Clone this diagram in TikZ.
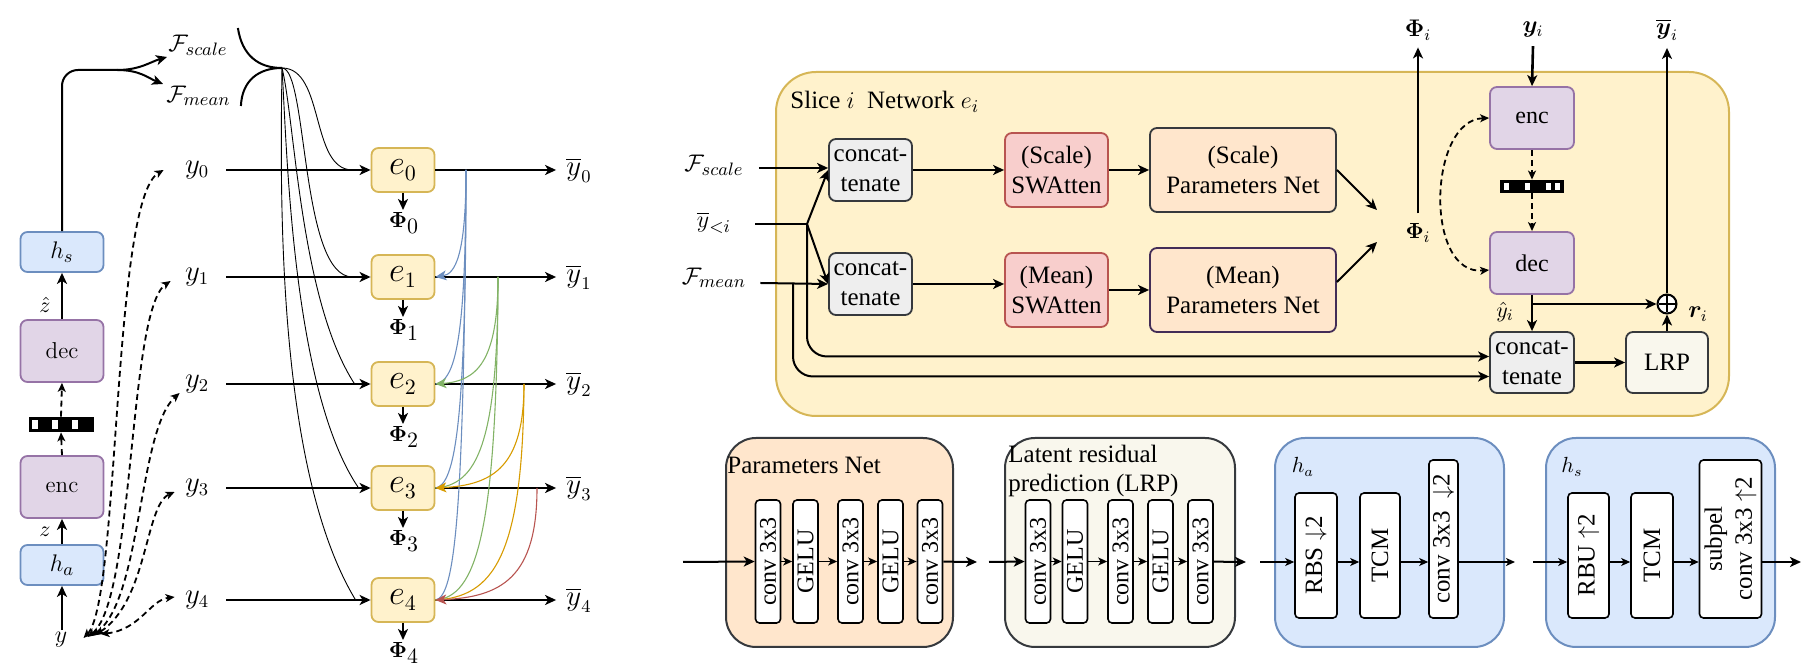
\documentclass[tikz,border=0pt]{standalone}
\usepackage{fontspec}
\usepackage{amsmath,bm,graphicx}
\usetikzlibrary{arrows.meta,calc}
\newfontfamily\tms{Liberation Serif}
\definecolor{eFill}{HTML}{FFF2CC}
\definecolor{eDraw}{HTML}{D6B656}
\definecolor{pFill}{HTML}{E1D5E7}
\definecolor{pDraw}{HTML}{9673A6}
\definecolor{bFill}{HTML}{DAE8FC}
\definecolor{bDraw}{HTML}{6C8EBF}
\definecolor{rFill}{HTML}{F8CECC}
\definecolor{rDraw}{HTML}{B85450}
\definecolor{oFill}{HTML}{FFE6CC}
\definecolor{dkDraw}{HTML}{36393D}
\definecolor{mDraw}{HTML}{432D57}
\definecolor{gFill}{HTML}{EEEEEE}
\definecolor{lrpFill}{HTML}{F9F7ED}
\definecolor{cBlue}{HTML}{6C8EBF}
\definecolor{cGreen}{HTML}{82B366}
\definecolor{cOrange}{HTML}{D79B00}
\definecolor{cRed}{HTML}{B85450}
\begin{document}
\begin{tikzpicture}[x=0.5pt,y=-0.5pt,
  arr/.style={-{Stealth[length=5.5pt,width=5pt,inset=1.5pt]}, line width=1pt},
  arrs/.style={-{Stealth[length=4.5pt,width=4pt,inset=1.2pt]}, line width=0.75pt},
  dasharr/.style={-{Stealth[length=4.5pt,width=4pt,inset=1.2pt]}, line width=0.9pt, dash pattern=on 3pt off 2pt},
  dboth/.style={{Stealth[length=4.5pt,width=4pt,inset=1.2pt]}-{Stealth[length=4.5pt,width=4pt,inset=1.2pt]}, line width=0.9pt, dash pattern=on 3pt off 2pt},
  bx/.style={rounded corners=3.5pt, line width=0.9pt, align=center, inner sep=1pt},
  ebox/.style={bx, fill=eFill, draw=eDraw, minimum width=31.5pt, minimum height=22pt, font=\fontsize{16}{18}\selectfont},
  pbox/.style={bx, fill=pFill, draw=pDraw, minimum width=41.5pt, minimum height=31pt, font=\fontsize{11.5}{14}\selectfont},
  hbox/.style={bx, fill=bFill, draw=bDraw, minimum width=41.5pt, minimum height=20pt, font=\fontsize{13}{15}\selectfont},
  tbox/.style={bx, font=\tms\fontsize{12.5}{15}\selectfont},
  ccbox/.style={tbox, fill=gFill, draw=dkDraw, minimum width=41.5pt, minimum height=31pt},
  swbox/.style={tbox, fill=rFill, draw=rDraw, minimum width=51.5pt, minimum height=37pt},
  pnbox/.style={tbox, fill=oFill, draw=dkDraw, minimum width=93pt, minimum height=42pt},
  vb/.style={draw, fill=white, rounded corners=2pt, line width=0.8pt, inner sep=0pt, minimum height=61.5pt, font=\tms\fontsize{12}{14}\selectfont},
  qbar/.style={fill=black, inner sep=0pt, minimum width=32.5pt, minimum height=7.5pt},
  lab/.style={inner sep=1pt},
  grp/.style={rounded corners=15pt, line width=1pt, minimum height=104.5pt, inner sep=0pt},
  thinc/.style={line width=0.45pt},
]
\useasboundingbox (0,0) rectangle (1811,667);

% ================= LEFT PART =================
\node[hbox] (hs) at (62,252) {$h_s$};
\node[pbox] (dec) at (62,351) {dec};
\node[qbar] (bar) at (61,424.5) {};
\foreach \dx in {4,24,44} {\fill[white] ($(bar.west)+(\dx,-4.5)$) rectangle ++(6,9);}
\node[pbox] (enc) at (62,487) {enc};
\node[hbox] (ha) at (62,565) {$h_a$};
\node[lab, font=\fontsize{13}{15}\selectfont] (yin) at (61,640) {$y$};
\node[lab, font=\fontsize{10.5}{12}\selectfont] (zl) at (45,532) {$z$};
\node[lab, font=\fontsize{10.5}{12}\selectfont] (zh) at (45,305) {$\hat{z}$};

\draw[arr, line width=1.3pt] (ha.south |- yin.north) -- (ha.south);
\draw[arr, line width=1.3pt] (ha.north) -- (enc.south);
\draw[dasharr] (enc.north) -- (bar.south);
\draw[dasharr] (bar.north) -- (dec.south);
\draw[arr, line width=1.3pt] (dec.north) -- (hs.south);

\node[lab, anchor=west, font=\fontsize{12.5}{14}\selectfont] (Fs) at (166,45) {$\mathcal{F}_{scale}$};
\node[lab, anchor=west, font=\fontsize{12.5}{14}\selectfont] (Fm) at (164,96) {$\mathcal{F}_{mean}$};
\coordinate (fsplit) at (117,70);
\draw[line width=1pt, rounded corners=8pt] (hs.north) |- (fsplit);
\draw[arr] (fsplit) .. controls (140,70) and (150,62) .. ($(Fs.west)+(1,12)$);
\draw[arr] (fsplit) .. controls (140,70) and (148,78) .. ($(Fm.west)+(-1,-12)$);

\coordinate (cusp) at (282,68);
\draw[line width=1pt] ($(Fs.east)+(8,-17)$) .. controls (242,55) and (258,68) .. (cusp);
\draw[line width=1pt] ($(Fm.east)+(8,10)$) .. controls (242,81) and (258,68) .. (cusp);

\foreach \i/\r in {0/170,1/277,2/384,3/488,4/600} {
  \node[ebox] (e\i) at (403,\r) {$e_{\i}$};
  \node[lab, font=\fontsize{13.5}{15}\selectfont] (yL\i) at (197,\r) {$y_{\i}$};
  \node[lab, anchor=north, font=\fontsize{10.5}{12}\selectfont] (ph\i) at ({404},{\r+40}) {$\bm{\Phi}_{\textstyle\i}$};
  \node[lab, font=\fontsize{13.5}{15}\selectfont] (yb\i) at (579,\r) {$\overline{y}_{\i}$};
  \draw[arr, line width=1.3pt] ($(yL\i.east)+(15,0)$) -- (e\i.west);
  \draw[arr] (e\i.south) -- (e\i.south |- ph\i.north);
  \draw[arr] (e\i.east) -- ($(yb\i.west)+(-8,0)$);
}

% thin feature curves
\draw[thinc] (cusp) .. controls (325,68) and (310,170) .. ($(e0.west)+(-18,0)$);
\draw[thinc] (cusp) .. controls (308,68) and (300,277) .. ($(e1.west)+(-18,0)$);
\draw[thinc] (cusp) .. controls (295,120) and (300,300) .. ($(e2.west)+(-16,0)$);
\draw[thinc] (cusp) .. controls (287,150) and (292,390) .. ($(e3.west)+(-12,0)$);
\draw[thinc] (cusp) .. controls (280,200) and (277,470) .. ($(e4.west)+(-15,0)$);

% dashed slicing curves
\draw[dboth] ($(yin.east)+(14,-2)$) .. controls (120,600) and (112,200) .. ($(yL0.west)+(-19,0)$);
\draw[dboth] ($(yin.east)+(18,-3)$) .. controls (135,600) and (128,310) .. ($(yL1.west)+(-12,4)$);
\draw[dboth] ($(yin.east)+(22,-4)$) .. controls (142,600) and (138,430) .. ($(yL2.west)+(-3,9)$);
\draw[dboth] ($(yin.east)+(26,-5)$) .. controls (148,600) and (145,505) .. ($(yL3.west)+(-8,4)$);
\draw[dboth] ($(yin.east)+(31,-6)$) .. controls (140,630) and (150,600) .. ($(yL4.west)+(-8,-3)$);

% coloured context curves
\coordinate (s0) at (466,170);
\coordinate (s1) at (498,277);
\coordinate (s2) at (524,384);
\coordinate (s3) at (537,488);
\begin{scope}[line width=0.55pt]
\draw[cBlue] (s0) .. controls (466,341) and (455,381) .. (e2.east);
\draw[cBlue] (s0) .. controls (466,424) and (455,485) .. (e3.east);
\draw[cBlue] (s0) .. controls (464,514) and (455,597) .. (e4.east);
\draw[cBlue, -{Stealth[length=5.5pt,width=5pt,inset=1.5pt]}] (s0) .. controls (466,256) and (455,274) .. (e1.east);
\draw[cGreen] (s1) .. controls (498,446) and (476,485) .. (e3.east);
\draw[cGreen] (s1) .. controls (497,535) and (476,597) .. (e4.east);
\draw[cGreen, -{Stealth[length=5.5pt,width=5pt,inset=1.5pt]}] (s1) .. controls (498,363) and (476,381) .. (e2.east);
\draw[cOrange] (s2) .. controls (523,557) and (493,597) .. (e4.east);
\draw[cOrange, -{Stealth[length=5.5pt,width=5pt,inset=1.5pt]}] (s2) .. controls (524,467) and (493,485) .. (e3.east);
\draw[cRed, -{Stealth[length=5.5pt,width=5pt,inset=1.5pt]}] (s3) .. controls (537,578) and (501,597) .. (e4.east);
\end{scope}

% ================= RIGHT TOP: slice network =================
\node[grp, fill=eFill, draw=eDraw, rounded corners=20pt, minimum width=476.5pt, minimum height=172pt] (slice) at (1252.5,244) {};
\node[anchor=west, inner sep=0pt, font=\tms\fontsize{12.5}{15}\selectfont] (slt) at (790,102) {Slice $i$\ \ Network $e_i$};

\node[lab, font=\fontsize{12.5}{14}\selectfont] (Fs2) at (714,165) {$\mathcal{F}_{scale}$};
\node[lab, font=\fontsize{13}{15}\selectfont] (yl) at (714,223) {$\overline{y}_{<i}$};
\node[lab, font=\fontsize{12.5}{14}\selectfont] (Fm2) at (714,278) {$\mathcal{F}_{mean}$};

\node[ccbox] (cc1) at (870.5,170) {concat-\\tenate};
\node[ccbox] (cc2) at (870.5,284) {concat-\\tenate};
\node[swbox] (swS) at (1056.5,170) {(Scale)\\SWAtten};
\node[swbox] (swM) at (1056.5,290) {(Mean)\\SWAtten};
\node[pnbox] (pnS) at (1243,170) {(Scale)\\Parameters Net};
\node[pnbox, draw=mDraw] (pnM) at (1243,290) {(Mean)\\Parameters Net};

\node[pbox, font=\tms\fontsize{12}{14}\selectfont, minimum width=42pt] (enc2) at (1532,118) {enc};
\node[qbar, minimum width=32pt, minimum height=6.5pt] (bar2) at (1532,186.5) {};
\foreach \dx in {4,25,46,55} {\fill[white] ($(bar2.west)+(\dx,-3.5)$) rectangle ++(5,7);}
\node[pbox, font=\tms\fontsize{12}{14}\selectfont, minimum width=42pt] (dec2) at (1532,263) {dec};
\node[ccbox, minimum width=42pt, minimum height=30.5pt] (cc3) at (1532,362.5) {concat-\\tenate};
\node[tbox, fill=lrpFill, draw=dkDraw, minimum width=41pt, minimum height=30.5pt] (lrp) at (1667,362.5) {LRP};
\node[circle, draw, line width=1pt, fill=white, inner sep=0pt, minimum size=9.5pt] (op) at (1667,304) {};
\draw[line width=0.6pt] ($(op.north)+(0,2)$) -- ($(op.south)+(0,-2)$);
\draw[line width=0.6pt] ($(op.west)+(2,0)$) -- ($(op.east)+(-2,0)$);

\node[lab, font=\fontsize{11}{12}\selectfont] (phI) at (1418,233) {$\bm{\Phi}_i$};
\node[lab, font=\fontsize{11.5}{12}\selectfont] (phT) at (1418,30) {$\bm{\Phi}_i$};
\node[lab, font=\fontsize{11.5}{12}\selectfont] (yiT) at (1533,30) {$\bm{y}_i$};
\node[lab, font=\fontsize{11.5}{12}\selectfont] (ybT) at (1667,30) {$\overline{\bm{y}}_i$};
\node[lab, font=\fontsize{11}{12}\selectfont] (yh) at (1505,312) {$\hat{y}_i$};
\node[lab, font=\fontsize{11.5}{12}\selectfont] (ri) at (1698,314) {$\bm{r}_i$};

\draw[arr] ($(Fs2.east)+(13,3)$) -- ($(cc1.west)+(0,-2)$);
\coordinate (J) at (807,224);
\coordinate (K) at (793,283);
\draw[line width=1pt] ($(yl.east)+(22,1)$) -- (J);
\draw[arr] (J) -- (cc1.west);
\draw[arr] (J) -- (cc2.west);
\draw[arr, rounded corners=10pt] (J) |- ($(cc3.west)+(0,-6)$);
\draw[arr] ($(Fm2.east)+(12,5)$) -- (cc2.west);
\draw[arr, rounded corners=10pt] (K) |- ($(cc3.west)+(0,14)$);
\draw[arr] (cc1) -- (swS);
\draw[arr] (swS) -- (pnS);
\draw[arr] (cc2.east) -- (cc2.east -| swM.west);
\draw[arr] (swM) -- (pnM);
\coordinate (pa) at (1377,210);
\coordinate (pb) at (1377,242);
\draw[arr] (pnS.east) -- (pa);
\draw[arr] ($(pnM.east)+(0,-8)$) -- (pb);
\draw[arr, line width=1.3pt] ($(phI.north)+(0,-8)$) -- ($(phT.south)+(0,5)$);
\draw[arr, line width=1.3pt] ($(yiT.south)+(0,6)$) -- (enc2.north);
\draw[dasharr] (enc2.south) -- (bar2.north);
\draw[dasharr] (bar2.south) -- (dec2.north);
\draw[dboth] (enc2.west) .. controls (1428,120) and (1424,276) .. ($(dec2.west)+(0,7)$);
\draw[arr, line width=1.3pt] (dec2.south) -- (cc3.north);
\draw[arr] (dec2.south |- op) -- (op.west);
\draw[arr, line width=1.3pt] (cc3) -- (lrp);
\draw[arr, line width=1.3pt] (lrp) -- (op);
\draw[arr, line width=1.3pt] (op.north) -- ($(ybT.south)+(0,5)$);

% ================= BOTTOM ROW =================
% Parameters Net
\node[grp, fill=oFill, draw=dkDraw, minimum width=113.5pt] (gpn) at (839.5,542.5) {};
\node[anchor=west, inner sep=0pt, font=\tms\fontsize{12.5}{15}\selectfont] (gpnL) at (727,465) {Parameters Net};
\foreach \n/\x/\t in {1/768/conv 3x3,2/805.5/GELU,3/850.5/conv 3x3,4/890.5/GELU,5/930/conv 3x3}
  {\node[vb, minimum width=12.5pt] (pn\n) at (\x,561.5) {\rotatebox{90}{\t}};}
\coordinate (pnIn) at (683,562);
\coordinate (pnOut) at (977,562);
\draw[arr] (pnIn) -- (pn1.west);
\draw[arrs] (pn1) -- (pn2);
\draw[arrs] (pn2) -- (pn3);
\draw[arrs] (pn3) -- (pn4);
\draw[arrs] (pn4) -- (pn5);
\draw[arr] (pn5) -- (pnOut);

% LRP
\node[grp, fill=lrpFill, draw=dkDraw, minimum width=115pt] (glr) at (1120,542.5) {};
\node[anchor=north west, align=left, inner sep=0pt, font=\tms\fontsize{12.5}{14.5}\selectfont] (glrL) at (1008,445) {Latent residual\\prediction (LRP)};
\foreach \n/\x/\t in {1/1038/conv 3x3,2/1075/GELU,3/1120.5/conv 3x3,4/1160.5/GELU,5/1200.5/conv 3x3}
  {\node[vb, minimum width=12.5pt] (lr\n) at (\x,561.5) {\rotatebox{90}{\t}};}
\coordinate (lrIn) at (989,562);
\coordinate (lrOut) at (1246,562);
\draw[arr] (lrIn) -- (lr1.west);
\draw[arrs] (lr1) -- (lr2);
\draw[arrs] (lr2) -- (lr3);
\draw[arrs] (lr3) -- (lr4);
\draw[arrs] (lr4) -- (lr5);
\draw[arr] (lr5) -- (lrOut);

% h_a
\node[grp, fill=bFill, draw=bDraw, minimum width=114.5pt] (gha) at (1389.5,542.5) {};
\node[lab, font=\fontsize{10.5}{12}\selectfont] (ghaL) at (1303,467) {$h_a$};
\node[vb, minimum width=21pt, minimum height=62.5pt, font=\tms\fontsize{12.5}{14}\selectfont] (rbs) at (1316,555.5) {\rotatebox{90}{RBS $\downarrow$2}};
\node[vb, minimum width=20pt, minimum height=62.5pt, font=\tms\fontsize{12.5}{14}\selectfont] (tcm1) at (1380,555.5) {\rotatebox{90}{TCM}};
\node[vb, minimum width=14.5pt, minimum height=79pt, font=\tms\fontsize{12.5}{14}\selectfont] (cvd) at (1443.5,539) {\rotatebox{90}{conv 3x3 \ $\downarrow$2}};
\coordinate (haIn) at (1260,562);
\coordinate (haOut) at (1515,562);
\draw[arrs] (haIn) -- (haIn -| rbs.west);
\draw[arrs] (rbs.east |- haIn) -- (tcm1.west |- haIn);
\draw[arrs] (tcm1.east |- haIn) -- (cvd.west |- haIn);
\draw[arrs] (cvd.east |- haIn) -- (haOut);

% h_s
\node[grp, fill=bFill, draw=bDraw, minimum width=114.5pt] (ghs) at (1660.5,542.5) {};
\node[lab, font=\fontsize{10.5}{12}\selectfont] (ghsL) at (1572,467) {$h_s$};
\node[vb, minimum width=20.5pt, minimum height=62.5pt, font=\tms\fontsize{12.5}{14}\selectfont] (rbu) at (1588.5,555.5) {\rotatebox{90}{RBU $\uparrow$2}};
\node[vb, minimum width=21pt, minimum height=62.5pt, font=\tms\fontsize{12.5}{14}\selectfont] (tcm2) at (1652,555.5) {\rotatebox{90}{TCM}};
\node[vb, minimum width=28.5pt, minimum height=79pt, font=\tms\fontsize{12.5}{16}\selectfont] (spc) at (1730.5,539) {\rotatebox{90}{\begin{tabular}{@{}c@{}}subpel\\[-1pt]conv 3x3 $\uparrow$2\end{tabular}}};
\coordinate (hsIn) at (1533,562);
\coordinate (hsOut) at (1801,562);
\draw[arrs] (hsIn) -- (hsIn -| rbu.west);
\draw[arrs] (rbu.east |- hsIn) -- (tcm2.west |- hsIn);
\draw[arrs] (tcm2.east |- hsIn) -- (spc.west |- hsIn);
\draw[arr] (spc.east |- hsIn) -- (hsOut);
\end{tikzpicture}
\end{document}
